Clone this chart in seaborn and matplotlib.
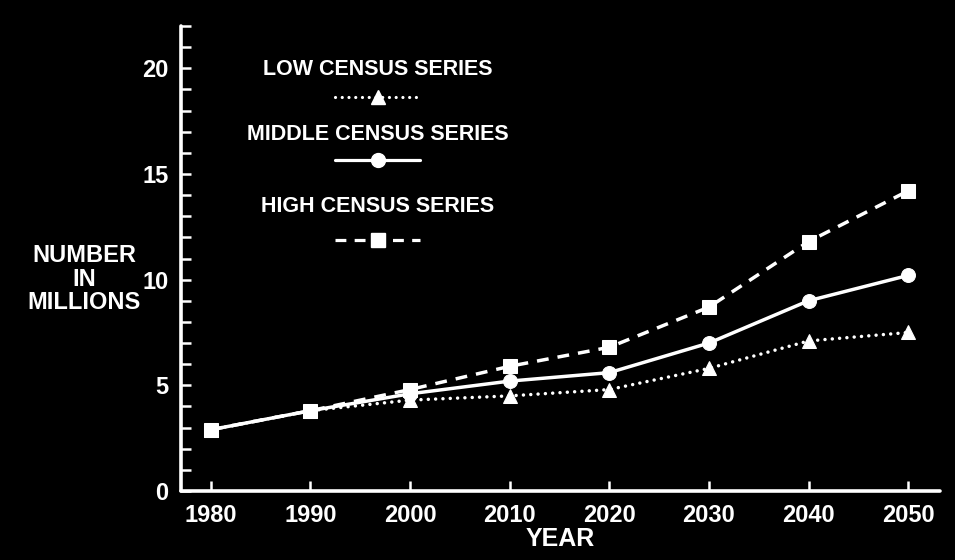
import matplotlib
matplotlib.use('Agg')
import matplotlib.pyplot as plt
import seaborn as sns
import pandas as pd
from matplotlib.lines import Line2D

# data (millions)
years = [1980, 1990, 2000, 2010, 2020, 2030, 2040, 2050]
low = [2.9, 3.8, 4.3, 4.5, 4.8, 5.8, 7.1, 7.5]
middle = [2.9, 3.8, 4.6, 5.2, 5.6, 7.0, 9.0, 10.2]
high = [2.9, 3.8, 4.8, 5.9, 6.8, 8.7, 11.8, 14.2]
series_names = ['LOW CENSUS SERIES', 'MIDDLE CENSUS SERIES', 'HIGH CENSUS SERIES']

df = pd.DataFrame({'year': years, 'low': low, 'middle': middle, 'high': high})

sns.set_style('dark')
plt.rcParams['font.family'] = ['Liberation Sans', 'DejaVu Sans']
plt.rcParams['font.weight'] = 'bold'

fig = plt.figure(figsize=(9.55, 5.6), dpi=100, facecolor='black')
ax = fig.add_axes([181 / 955, 1 - 491 / 560, (940 - 181) / 955, (491 - 26) / 560])
ax.set_facecolor('black')

# style per series: linestyle, marker
styles = {
    'low': dict(linestyle=(0, (0.01, 2.1)), marker='^', dash_capstyle='round'),
    'middle': dict(linestyle='-', marker='o'),
    'high': dict(linestyle=(0, (3.4, 2.6)), marker='s'),
}
for col in ['low', 'middle', 'high']:
    sns.lineplot(data=df, x='year', y=col, ax=ax, color='white', linewidth=2.5,
                 markersize=10, markeredgecolor='white', markerfacecolor='white',
                 solid_capstyle='round', **styles[col])

ax.set_xlim(1977.0, 2053.2)
ax.set_ylim(0, 22)
ax.set_xticks(years)
ax.set_xticklabels([str(y) for y in years])
ax.set_yticks(range(0, 23))
ax.set_yticklabels([str(v) if v % 5 == 0 else '' for v in range(0, 23)])
ax.grid(False)

for side in ['top', 'right']:
    ax.spines[side].set_visible(False)
for side in ['left', 'bottom']:
    ax.spines[side].set_visible(True)
    ax.spines[side].set_color('white')
    ax.spines[side].set_linewidth(2.6)
    ax.spines[side].set_capstyle('round')

ax.tick_params(axis='both', direction='in', colors='white', length=7, width=1.8,
               labelsize=17, pad=9, left=True, bottom=True)

ax.set_xlabel('YEAR', color='white', fontsize=18, fontweight='bold', labelpad=0)
ax.set_ylabel('')
fig.text(84 / 955, 1 - 279 / 560, 'NUMBER\nIN\nMILLIONS', color='white', fontsize=17,
         fontweight='bold', ha='center', va='center', linespacing=1.05)

# manual legend: label above a line sample
legend_x = 0.2596
text_y = [0.9054, 0.7656, 0.6108]
line_y = [0.847, 0.7118, 0.5398]
for name, col, ty, ly in zip(series_names, ['low', 'middle', 'high'], text_y, line_y):
    ax.text(legend_x, ty, name, transform=ax.transAxes, color='white', fontsize=15.5,
            fontweight='bold', ha='center', va='center')
    st = dict(styles[col])
    mk = st.pop('marker')
    ax.add_line(Line2D([0.2029, 0.3149], [ly, ly], transform=ax.transAxes, color='white',
                       linewidth=2.3, **st))
    ax.add_line(Line2D([legend_x], [ly], transform=ax.transAxes, color='white',
                       marker=mk, markersize=10, linestyle='none'))

fig.savefig('out.png', dpi=100, facecolor='black')
